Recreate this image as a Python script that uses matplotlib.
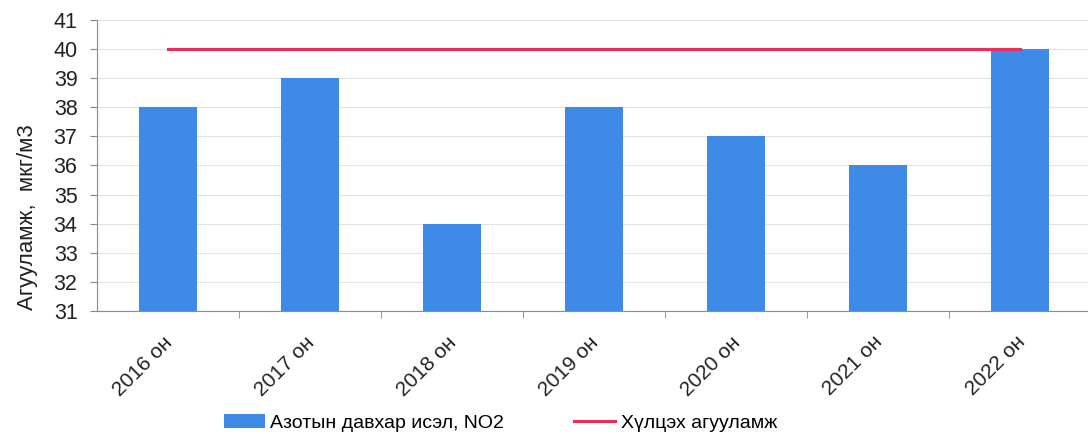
import matplotlib.pyplot as plt
from matplotlib import transforms

plt.rcParams['font.family'] = ['Liberation Sans', 'DejaVu Sans']

years = ['2016 он', '2017 он', '2018 он', '2019 он', '2020 он', '2021 он', '2022 он']
no2 = [38, 39, 34, 38, 37, 36, 40]
limit = [40, 40, 40, 40, 40, 40, 40]

BAR_COLOR = '#3d8be6'
LINE_COLOR = '#ee2c5a'

fig = plt.figure(figsize=(10.88, 4.34), dpi=100)
ax = fig.add_axes([97 / 1088, 1 - 311 / 434, 994 / 1088, 291 / 434])

x = list(range(len(years)))
bars = ax.bar(x, no2, width=0.41, color=BAR_COLOR, label='Азотын давхар исэл, NO2', zorder=2)
line, = ax.plot(x, limit, color=LINE_COLOR, lw=2.2, label='Хүлцэх агууламж', zorder=3)

ax.set_xlim(-0.5, len(years) - 0.5)
ax.set_ylim(31, 41)
ax.set_yticks(range(31, 42))
ax.tick_params(axis='y', labelsize=15.5, length=5, pad=9, color='#888888', colors='#222222')
ax.yaxis.grid(True, color='#e3e3e3', lw=0.8, zorder=0)

# category labels centred on bars, tick marks between categories
ax.set_xticks(x)
ax.set_xticklabels(years, rotation=45, ha='right', rotation_mode='anchor', fontsize=15, color='#222222')
ax.tick_params(axis='x', length=0, pad=8)
shift = transforms.ScaledTranslation(-3.5 / 72, -7.5 / 72, fig.dpi_scale_trans)
for lbl in ax.get_xticklabels():
    lbl.set_transform(lbl.get_transform() + shift)
ax.set_xticks([i + 0.5 for i in x[:-1]], minor=True)
ax.tick_params(axis='x', which='minor', length=5, color='#888888', direction='out')

for side in ['top', 'right']:
    ax.spines[side].set_visible(False)
ax.spines['left'].set_color('#8a8a9a')
ax.spines['bottom'].set_color('#8a8a9a')

ax.set_ylabel('Агууламж,  мкг/м3', fontsize=16, color='#222222')
ax.yaxis.set_label_coords(-0.059, 0.323)

fig.legend([bars, line], [bars.get_label(), line.get_label()],
           loc='lower center', bbox_to_anchor=(0.460, -0.035), ncol=2, frameon=False,
           fontsize=14, columnspacing=3.6, handlelength=2.1, handletextpad=0.3)

fig.savefig('out.png', dpi=100)
